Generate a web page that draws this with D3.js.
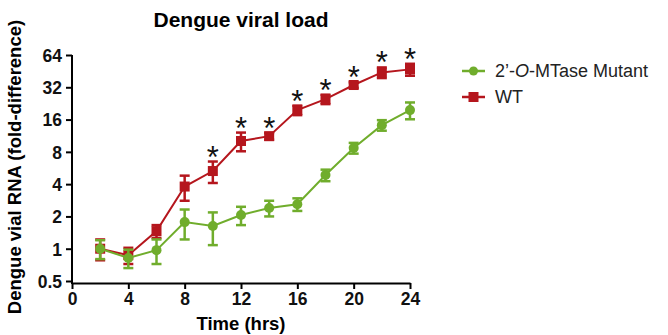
<!DOCTYPE html>
<meta charset="utf-8">
<body style="margin:0;background:#fff">
<script src="https://cdn.jsdelivr.net/npm/d3@7"></script>
<script>
var width = 668,
    height = 335;

// data
var hours = [2, 4, 6, 8, 10, 12, 14, 16, 18, 20, 22, 24];
var wtMean = [1.0, 0.87, 1.46, 3.8, 5.3, 10.1, 11.2, 19.6, 24.8, 33.6, 44, 47];
var wtErr  = [0.22, 0.15, 0.2, 1.0, 1.2, 2.0, 0.8, 2.0, 2.5, 2.0, 5, 6];
var mutMean = [1.0, 0.82, 0.97, 1.77, 1.63, 2.06, 2.4, 2.6, 4.86, 8.7, 14.2, 19.6];
var mutErr  = [0.2, 0.16, 0.25, 0.55, 0.55, 0.4, 0.4, 0.35, 0.6, 1.0, 1.6, 3.5];
var starHours = [10, 12, 14, 16, 18, 20, 22, 24];
var yTicks = [0.5, 1, 2, 4, 8, 16, 32, 64];
var xTicks = [0, 4, 8, 12, 16, 20, 24];

var red = "#b5161d", green = "#70ad2c";

var svg = d3.select("body").append("svg")
    .attr("width", width)
    .attr("height", height)
    .style("font-family", "Liberation Sans, Arial, sans-serif");

var x = d3.scaleLinear().domain([0, 24]).range([72, 410]);
var y = d3.scaleLog().base(2).domain([0.5, 64]).range([281, 55]);

// axes
var xAxis = svg.append("g")
    .attr("transform", "translate(0,283)")
    .call(d3.axisBottom(x).tickValues(xTicks).tickSize(6).tickPadding(4).tickSizeOuter(0));
var yAxis = svg.append("g")
    .attr("transform", "translate(72,0)")
    .call(d3.axisLeft(y).tickValues(yTicks).tickFormat(d3.format("")).tickSize(6).tickPadding(4).tickSizeOuter(0));

[xAxis, yAxis].forEach(function(a) {
  a.selectAll("path").attr("stroke", "#000").attr("stroke-width", 2);
  a.selectAll("line").attr("stroke", "#000").attr("stroke-width", 2);
  a.selectAll("text").attr("fill", "#111")
    .style("font-size", "17.5px").style("font-weight", "bold").style("font-family", "Liberation Sans, Arial, sans-serif");
});
yAxis.select("path").attr("d", "M0,55V284");
yAxis.selectAll("text").attr("dy", "0.36em");

// titles
svg.append("text")
    .attr("x", 241).attr("y", 27)
    .attr("text-anchor", "middle")
    .style("font-size", "21px").style("font-weight", "bold")
    .text("Dengue viral load");

svg.append("text")
    .attr("x", 241).attr("y", 330)
    .attr("text-anchor", "middle")
    .style("font-size", "18.5px").style("font-weight", "bold")
    .text("Time (hrs)");

svg.append("text")
    .attr("transform", "translate(21,167) rotate(-90)")
    .attr("text-anchor", "middle")
    .style("font-size", "18.5px").style("font-weight", "bold")
    .text("Dengue vial RNA (fold-difference)");

function drawSeries(mean, err, color, shape) {
  var pts = hours.map(function(h, i) { return {h: h, m: mean[i], e: err[i]}; });
  var g = svg.append("g");
  g.append("path")
    .datum(pts)
    .attr("fill", "none")
    .attr("stroke", color)
    .attr("stroke-width", 2)
    .attr("d", d3.line().x(d => x(d.h)).y(d => y(d.m)));

  var eb = g.selectAll(".eb").data(pts).enter().append("g")
    .attr("stroke", color).attr("stroke-width", 2.5);
  eb.append("line")
    .attr("x1", d => x(d.h)).attr("x2", d => x(d.h))
    .attr("y1", d => y(d.m + d.e)).attr("y2", d => y(Math.max(d.m - d.e, 0.01)));
  eb.append("line")
    .attr("x1", d => x(d.h) - 5).attr("x2", d => x(d.h) + 5)
    .attr("y1", d => y(d.m + d.e)).attr("y2", d => y(d.m + d.e));
  eb.append("line")
    .attr("x1", d => x(d.h) - 5).attr("x2", d => x(d.h) + 5)
    .attr("y1", d => y(d.m - d.e)).attr("y2", d => y(d.m - d.e));

  if (shape === "square") {
    g.selectAll(".pt").data(pts).enter().append("rect")
      .attr("x", d => x(d.h) - 5).attr("y", d => y(d.m) - 5)
      .attr("width", 10).attr("height", 10)
      .attr("fill", color);
  } else {
    g.selectAll(".pt").data(pts).enter().append("circle")
      .attr("cx", d => x(d.h)).attr("cy", d => y(d.m))
      .attr("r", 5)
      .attr("fill", color);
  }
}

drawSeries(wtMean, wtErr, red, "square");
drawSeries(mutMean, mutErr, green, "circle");

// significance stars above WT
svg.selectAll(".star").data(starHours).enter().append("text")
    .attr("x", d => x(d))
    .attr("y", function(d) {
      var i = hours.indexOf(d);
      return y(wtMean[i] + wtErr[i]) + 6;
    })
    .attr("text-anchor", "middle")
    .style("font-size", "31px")
    .attr("fill", "#111")
    .text("*");

// legend
var leg = svg.append("g");
leg.append("line").attr("x1", 462).attr("x2", 485).attr("y1", 71).attr("y2", 71)
   .attr("stroke", green).attr("stroke-width", 2.5);
leg.append("circle").attr("cx", 473.5).attr("cy", 71).attr("r", 4.5).attr("fill", green);
var t1 = leg.append("text").attr("x", 495).attr("y", 77)
   .style("font-size", "18px").attr("fill", "#222");
t1.append("tspan").text("2\u2019-");
t1.append("tspan").style("font-style", "italic").text("O");
t1.append("tspan").text("-MTase Mutant");

leg.append("line").attr("x1", 462).attr("x2", 485).attr("y1", 97).attr("y2", 97)
   .attr("stroke", red).attr("stroke-width", 2.5);
leg.append("rect").attr("x", 468.5).attr("y", 92).attr("width", 10).attr("height", 10).attr("fill", red);
leg.append("text").attr("x", 495).attr("y", 103)
   .style("font-size", "18px").attr("fill", "#222").text("WT");
</script>
</body>
